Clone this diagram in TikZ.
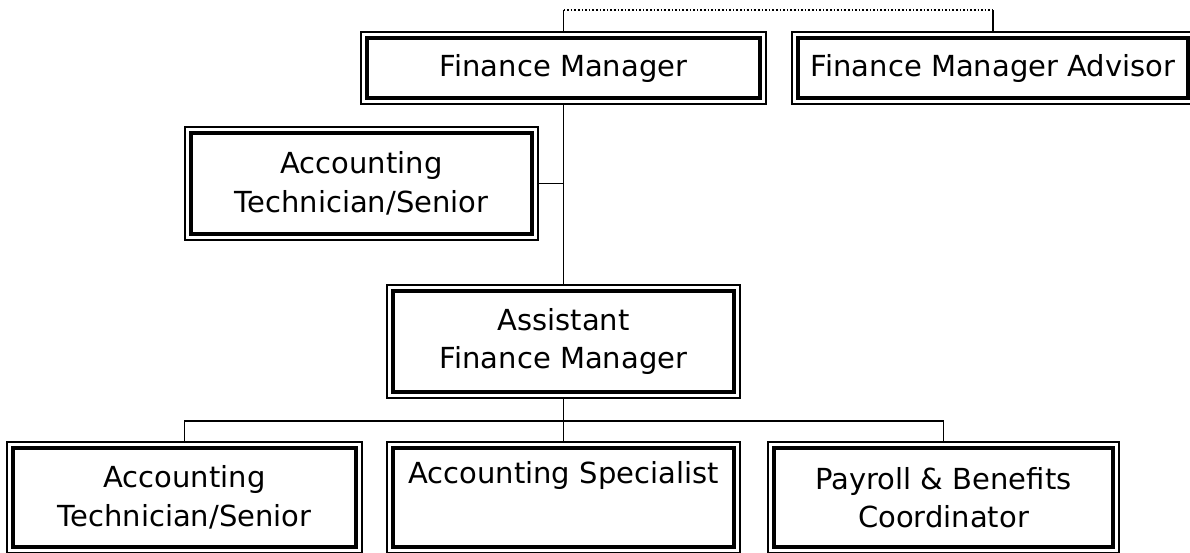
\documentclass[tikz,border=0pt]{standalone}
\usepackage{fontspec}
\setmainfont{DejaVu Sans}
\begin{document}
\begin{tikzpicture}[x=1pt,y=-1pt,
  box/.style={draw, line width=1.2pt, outer sep=0pt, inner sep=0pt, align=center,
    font=\fontsize{29}{38.5}\selectfont},
  link/.style={line width=1.6pt},
  dotlink/.style={line width=1.5pt, dash pattern=on 1.6pt off 2pt}]
\useasboundingbox (0,0) rectangle (1190,552);
\clip (0,0) rectangle (1190,552);
\fill[white] (0,0) rectangle (1190,552);
\node[box, minimum width=405pt, minimum height=72pt] (fm) at (563.5,68) {Finance Manager};
\node[box, minimum width=402pt, minimum height=72pt] (fma) at (993,68) {Finance Manager Advisor};
\node[box, minimum width=353pt, minimum height=113pt] (ats) at (361.5,183.5) {Accounting\\Technician/Senior};
\node[box, minimum width=353pt, minimum height=113pt] (afm) at (563.5,341.5) {Assistant\\Finance Manager};
\node[box, minimum width=355pt, minimum height=111pt] (b1) at (184.5,497.5) {Accounting\\Technician/Senior};
\node[box, minimum width=353pt, minimum height=111pt] (b2) at (563.5,497.5) {Accounting Specialist\\\strut};
\node[box, minimum width=351pt, minimum height=111pt] (b3) at (943.5,497.5) {Payroll \& Benefits\\Coordinator};
\foreach \n in {fm,fma,ats,afm,b1,b2,b3}
  \draw[line width=4.2pt] ([xshift=6pt,yshift=-6pt]\n.north west) rectangle ([xshift=-6pt,yshift=6pt]\n.south east);
\coordinate (t1) at (563.5,10);
\coordinate (t2) at (993,10);
\draw[link] (fm.north) -- (t1);
\draw[dotlink] (t1) -- (t2);
\draw[link] (t2) -- (fma.north);
\draw[link] (fm.south) -- (afm.north);
\draw[link] (ats.east) -- (ats.east -| fm.south);
\draw[link] (afm.south) -- (b2.north);
\coordinate (bus) at (563.5,421);
\draw[link] (b1.north) |- (bus) -| (b3.north);
\end{tikzpicture}
\end{document}
